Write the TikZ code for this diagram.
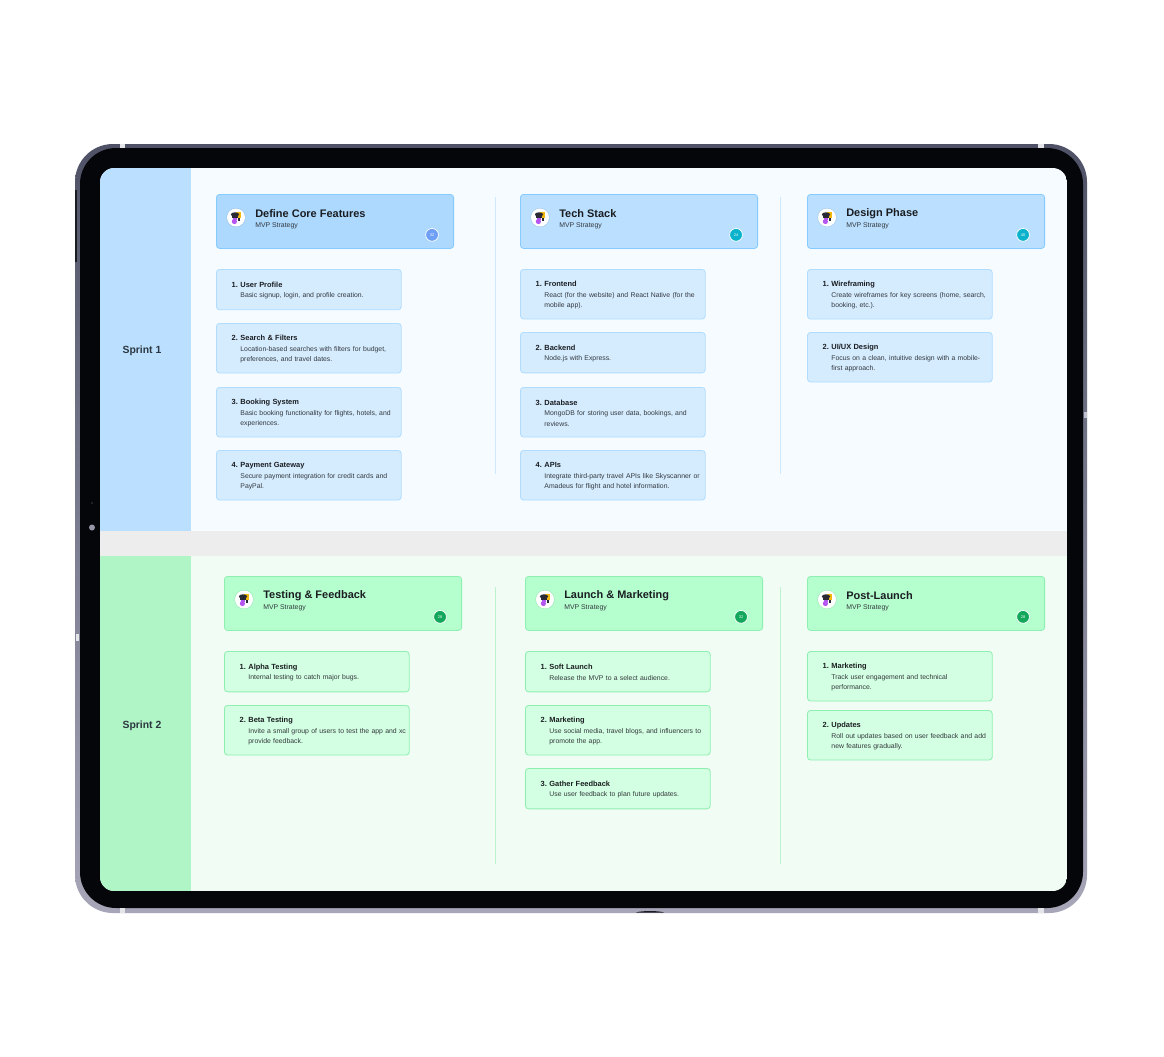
\documentclass[tikz,border=0pt]{standalone}
\usepackage{fontspec}
\setmainfont{Liberation Sans}
\usepackage{xcolor}
\usetikzlibrary{calc}
\definecolor{bezel}{HTML}{05060A}
\definecolor{rimtop}{HTML}{4F5266}
\definecolor{rimlow}{HTML}{A6A6B8}
\definecolor{gapgrey}{HTML}{EDEDED}
\definecolor{skyband}{HTML}{BBE0FF}
\definecolor{skypage}{HTML}{F5FBFF}
\definecolor{skydeep}{HTML}{ADD9FF}
\definecolor{skyline}{HTML}{85CBFF}
\definecolor{skyitem}{HTML}{D5ECFF}
\definecolor{skyrule}{HTML}{CDE8FF}
\definecolor{mintband}{HTML}{B0F5C6}
\definecolor{mintpage}{HTML}{F1FCF4}
\definecolor{minthead}{HTML}{B5FFCF}
\definecolor{mintline}{HTML}{8EF0B0}
\definecolor{mintitem}{HTML}{D3FFE2}
\definecolor{mintrule}{HTML}{BDF2CE}
\definecolor{badgeblue}{HTML}{6E9FF5}
\definecolor{badgeteal}{HTML}{0AB2CB}
\definecolor{badgegreen}{HTML}{12A75B}
\definecolor{inkdark}{HTML}{1A1D21}
\definecolor{inkbody}{HTML}{33383D}
\definecolor{inkband}{HTML}{2B3640}
\definecolor{logohat}{HTML}{2A2A35}
\definecolor{logogold}{HTML}{F2B90F}
\definecolor{logoviolet}{HTML}{B455F0}
\tikzset{
  headcard/.style={
    rounded corners=0.8mm,
    line width=0.6pt,
    anchor=north west,
    minimum width=59.3mm,
    minimum height=13.5mm,
    inner sep=0pt
  },
  itemcard/.style={
    rounded corners=0.8mm,
    line width=0.6pt,
    anchor=north west,
    text width=46.2mm,
    inner xsep=0pt,
    inner ysep=0pt,
    align=left,
    text=inkbody,
    font=\fontsize{4.88}{7.55}\selectfont
  },
  oneline/.style={minimum height=10.1mm},
  twoline/.style={minimum height=12.4mm},
  skyhead/.style={fill=skyband, draw=skyline},
  skydark/.style={fill=skydeep, draw=skyline},
  skycard/.style={fill=skyitem, draw=skyline!65},
  minthd/.style={fill=minthead, draw=mintline},
  mintcard/.style={fill=mintitem, draw=mintline},
  cardtitle/.style={font=\fontsize{7.8}{10}\bfseries\selectfont, text=inkdark, anchor=west, inner sep=0pt},
  cardsub/.style={font=\fontsize{4.9}{6}\selectfont, text=inkbody, anchor=west, inner sep=0pt},
  bandlabel/.style={font=\fontsize{7.4}{10}\bfseries\selectfont, text=inkband},
  logodisc/.style={
    circle, fill=white, minimum size=4.5mm, inner sep=0pt,
    preaction={draw=black, draw opacity=0.09, line width=0.9pt}
  },
  badge/.style={
    circle, draw=white, line width=0.5pt, minimum size=3.2mm, inner sep=0pt,
    text=white, font=\fontsize{2.8}{3}\selectfont
  },
  rule/.style={line width=0.6pt}
}
\newcommand{\itemtext}[3]{\leftskip=6mm\relax\rule{0pt}{5.2pt}\llap{\textbf{\textcolor{inkdark}{\fontsize{5.3}{7.55}\selectfont #1\,\,}}}\textbf{\textcolor{inkdark}{\fontsize{5.3}{7.55}\selectfont #2}}\\#3\par}
% header card with logo, title and count
\newcommand{\sprintcard}[7]{%
  \node[headcard, #4] (#1) at (#2,#3) {};
  \node[logodisc] (#1logo) at ($(#1.north west)+(20,23.5)$) {};
  \fill[logogold] ($(#1logo)+(-0.5,-5.5)$) rectangle ($(#1logo)+(4.6,0.5)$);
  \fill[logohat] ($(#1logo)+(-1,-3)$) ellipse (1.05mm and 0.55mm);
  \fill[logohat] ($(#1logo)+(-4,-1.2)$) rectangle ($(#1logo)+(2,0)$);
  \fill[logohat] ($(#1logo)+(1.6,0.8)$) rectangle ($(#1logo)+(4.2,3.2)$);
  \fill[logoviolet] ($(#1logo)+(-3.4,0)$) rectangle ($(#1logo)+(0.6,2.6)$);
  \fill[logoviolet] ($(#1logo)+(-1.6,4)$) circle (0.65mm);
  \node[cardtitle] (#1title) at ($(#1.north west)+(39,19.5)$) {#5};
  \node[cardsub] (#1sub) at ($(#1.north west)+(39,32)$) {MVP Strategy};
  \node[badge, fill=#6] (#1count) at ($(#1.south east)+(-22,-14)$) {#7};
}
\begin{document}
\begin{tikzpicture}[x=0.25mm,y=-0.25mm]
\path[use as bounding box] (0,0) rectangle (1164,1056);
\fill[white] (0,0) rectangle (1164,1056);

% tablet body
\shade[top color=rimtop, bottom color=rimlow, rounded corners=9.5mm] (75,144) rectangle (1087,913);
\fill[bezel, rounded corners=9mm] (80,148) rectangle (1083,908);
\fill[inkdark] (75,190) rectangle (76.5,262);
\fill[white!85!rimtop] (119.5,144) rectangle (125,148);
\fill[white!85!rimtop] (1038,144) rectangle (1044,148);
\fill[white!85!rimtop] (119.5,908) rectangle (125,913);
\fill[white!85!rimtop] (1038,908) rectangle (1044,913);
\fill[rimlow!70!white] (1083.5,412) rectangle (1087,418);
\fill[white!85!rimtop] (75.5,634) rectangle (79,641);
\fill[bezel!70!rimtop] (636,912.5) .. controls (642,910.5) and (658,910.5) .. (664,912.5) -- cycle;
\fill[rimlow!80!rimtop] (92,527.5) circle (0.75mm);
\fill[bezel!85!white] (92,503) circle (0.3mm);

% screen
\begin{scope}
\clip[rounded corners=3.6mm] (100,168) rectangle (1067,891);
\fill[skypage] (100,168) rectangle (1067,531);
\fill[skyband] (100,168) rectangle (191,531);
\fill[gapgrey] (100,531) rectangle (1067,556);
\fill[mintpage] (100,556) rectangle (1067,891);
\fill[mintband] (100,556) rectangle (191,891);
\end{scope}

\node[bandlabel] (sprintone) at (142,350.5) {Sprint 1};
\node[bandlabel] (sprinttwo) at (142,725.5) {Sprint 2};

\draw[rule, skyrule] (495,197) -- (495,474);
\draw[rule, skyrule] (780,197) -- (780,474);
\draw[rule, mintrule] (495,587) -- (495,864);
\draw[rule, mintrule] (780,587) -- (780,864);

% sprint 1
\sprintcard{define}{216}{194}{skydark}{Define Core Features}{badgeblue}{32}
\node[itemcard, skycard, oneline] (profile) at (216,269) {\itemtext{1.}{User Profile}{Basic signup, login, and profile creation.}};
\node[itemcard, skycard, twoline] (search) at (216,323) {\itemtext{2.}{Search \& Filters}{Location-based searches with filters for budget,\\preferences, and travel dates.}};
\node[itemcard, skycard, twoline] (booking) at (216,387) {\itemtext{3.}{Booking System}{Basic booking functionality for flights, hotels, and\\experiences.}};
\node[itemcard, skycard, twoline] (payment) at (216,450) {\itemtext{4.}{Payment Gateway}{Secure payment integration for credit cards and\\PayPal.}};

\sprintcard{stack}{520}{194}{skyhead}{Tech Stack}{badgeteal}{24}
\node[itemcard, skycard, twoline] (frontend) at (520,269) {\itemtext{1.}{Frontend}{React (for the website) and React Native (for the\\mobile app).}};
\node[itemcard, skycard, oneline] (backend) at (520,332) {\itemtext{2.}{Backend}{Node.js with Express.}};
\node[itemcard, skycard, twoline] (database) at (520,387) {\itemtext{3.}{Database}{MongoDB for storing user data, bookings, and\\reviews.}};
\node[itemcard, skycard, twoline] (apis) at (520,450) {\itemtext{4.}{APIs}{Integrate third-party travel APIs like Skyscanner or\\Amadeus for flight and hotel information.}};

\sprintcard{design}{807}{194}{skyhead}{Design Phase}{badgeteal}{40}
\node[itemcard, skycard, twoline] (wire) at (807,269) {\itemtext{1.}{Wireframing}{Create wireframes for key screens (home, search,\\booking, etc.).}};
\node[itemcard, skycard, twoline] (uiux) at (807,332) {\itemtext{2.}{UI/UX Design}{Focus on a clean, intuitive design with a mobile-\\first approach.}};

% sprint 2
\sprintcard{testing}{224}{576}{minthd}{Testing \& Feedback}{badgegreen}{28}
\node[itemcard, mintcard, oneline] (alpha) at (224,651) {\itemtext{1.}{Alpha Testing}{Internal testing to catch major bugs.}};
\node[itemcard, mintcard, twoline] (beta) at (224,705) {\itemtext{2.}{Beta Testing}{Invite a small group of users to test the app and xc\\provide feedback.}};

\sprintcard{launch}{525}{576}{minthd}{Launch \& Marketing}{badgegreen}{32}
\node[itemcard, mintcard, oneline] (soft) at (525,651) {\itemtext{1.}{Soft Launch}{Release the MVP to a select audience.}};
\node[itemcard, mintcard, twoline] (market) at (525,705) {\itemtext{2.}{Marketing}{Use social media, travel blogs, and influencers to\\promote the app.}};
\node[itemcard, mintcard, oneline] (gather) at (525,768) {\itemtext{3.}{Gather Feedback}{Use user feedback to plan future updates.}};

\sprintcard{post}{807}{576}{minthd}{Post-Launch}{badgegreen}{28}
\node[itemcard, mintcard, twoline] (track) at (807,651) {\itemtext{1.}{Marketing}{Track user engagement and technical\\performance.}};
\node[itemcard, mintcard, twoline] (updates) at (807,710) {\itemtext{2.}{Updates}{Roll out updates based on user feedback and add\\new features gradually.}};
\end{tikzpicture}
\end{document}
